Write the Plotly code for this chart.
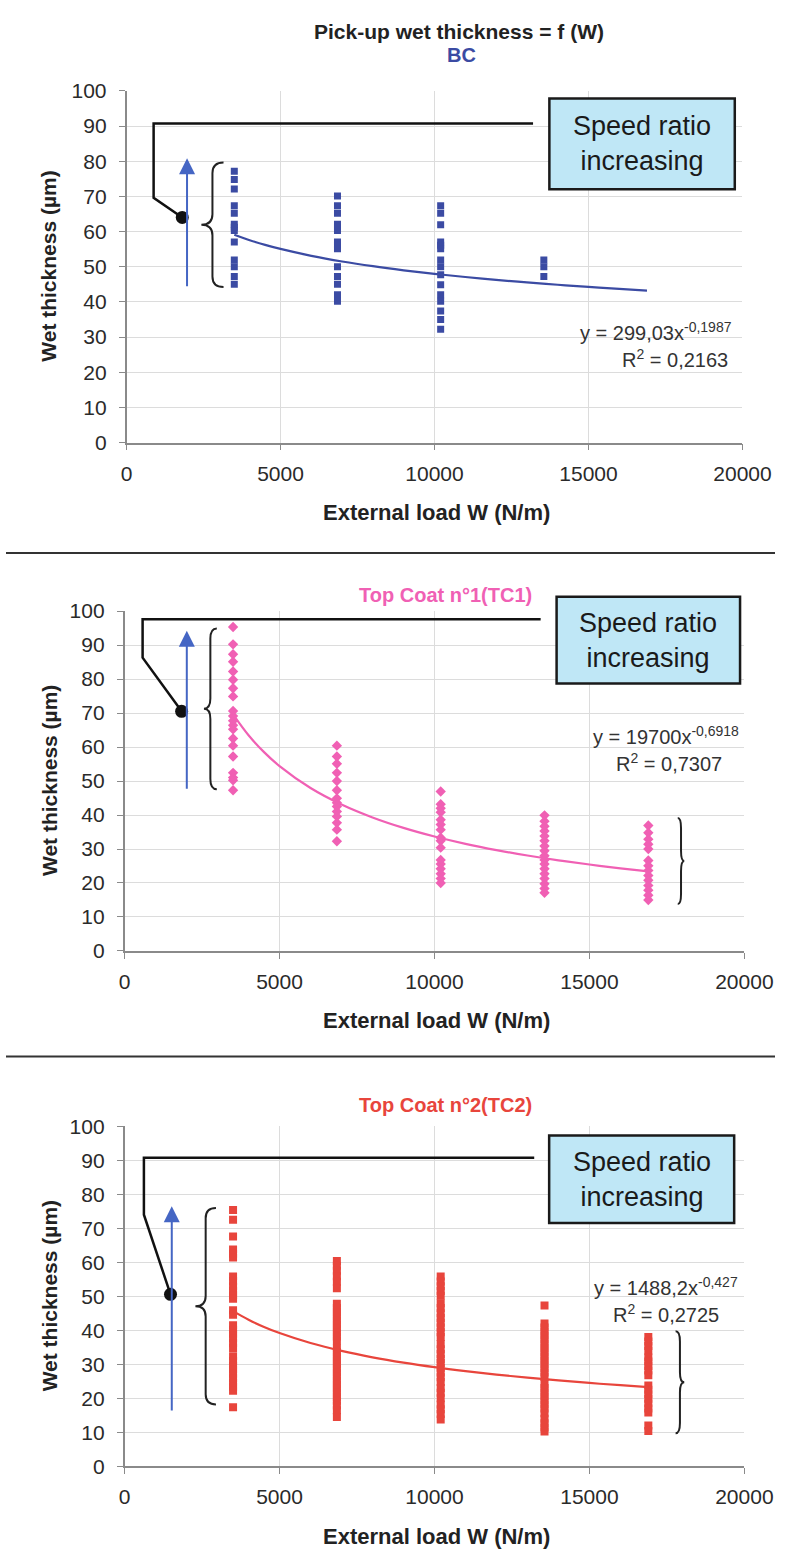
import plotly.graph_objects as go

# ---------------- data ----------------
loads = [3500, 6850, 10200, 13550, 16900]

bc_cols = [
    [77.1, 74.8, 72.1, 67.3, 65.2, 62.1, 61.2, 60.3, 57.0, 51.9, 50.0, 47.2, 45.0],
    [70.1, 67.3, 65.2, 62.1, 61.2, 60.3, 57.0, 56.1, 55.1, 50.0, 47.2, 45.0, 42.0, 40.2],
    [67.3, 65.2, 61.9, 57.0, 56.1, 55.1, 51.9, 50.0, 47.7, 44.9, 42.0, 40.2, 37.4, 35.0, 32.2],
    [51.9, 50.0, 47.2],
]
tc1_cols = [
    [95.3, 90.2, 87.3, 85.1, 82.2, 79.8, 77.3, 74.9, 70.6, 69.1, 67.7, 66.4, 65.2, 62.5, 60.4, 57.2, 52.4, 51.0, 50.2, 47.3],
    [60.4, 57.2, 55.1, 52.4, 50.0, 47.3, 44.9, 43.6, 42.5, 41.0, 39.6, 37.7, 35.7, 32.3],
    [46.9, 43.2, 42.0, 40.8, 38.6, 37.2, 35.7, 33.3, 32.4, 30.4, 26.8, 25.6, 24.2, 22.7, 21.3, 20.0],
    [39.9, 38.2, 36.7, 35.3, 33.8, 32.4, 30.9, 29.5, 28.0, 26.8, 25.6, 24.2, 22.7, 21.3, 19.8, 18.4, 17.1],
    [36.9, 34.8, 32.9, 31.4, 30.0, 26.6, 25.1, 23.7, 22.2, 20.8, 19.3, 17.9, 16.4, 15.0],
]
tc2_cols = [
    [75.4, 72.5, 67.6, 63.8, 62.5, 61.4, 55.8, 54.5, 52.9, 51.6, 50.3, 49.3, 45.9, 44.6, 41.5, 40.2, 39.0,
     37.7, 36.2, 34.8, 32.4, 31.0, 29.6, 28.5, 27.2, 25.9, 24.6, 23.4, 22.2, 17.4],
    [60.4, 59.0, 57.5, 55.9, 54.3, 52.4, 47.8, 46.6, 45.4, 44.2, 43.0, 41.8, 40.6, 39.4, 38.2, 37.0, 34.8,
     33.6, 32.4, 31.2, 30.0, 28.8, 27.6, 26.4, 25.2, 24.0, 22.8, 21.6, 20.4, 19.3, 17.9, 16.5, 14.5],
    [55.8, 54.4, 53.0, 51.6, 50.2, 48.0, 46.6, 45.0, 43.6, 42.2, 40.8, 39.4, 38.0, 36.0, 34.4, 33.0, 31.6,
     30.4, 29.0, 27.6, 26.2, 24.8, 23.0, 21.6, 20.0, 18.2, 16.8, 15.4, 13.8],
    [47.3, 42.0, 40.8, 39.6, 38.4, 37.2, 36.0, 34.8, 33.6, 32.4, 31.2, 30.0, 28.8, 27.6, 26.3, 24.2, 23.0,
     21.8, 20.6, 19.4, 18.2, 17.0, 15.6, 14.0, 12.7, 11.4, 10.2],
    [38.0, 36.7, 35.4, 34.0, 32.0, 30.8, 29.5, 28.2, 26.8, 23.8, 22.5, 21.2, 19.9, 18.5, 17.0, 15.8, 12.0, 10.4],
]

# power trend lines y = a * x^b (coefficients printed on the chart)
fit_a = [299.03, 19700, 1488.2]
fit_b = [-0.1987, -0.6918, -0.427]
fit_x = [3500, 4000, 4500, 5000, 6000, 7000, 8000, 9000, 10000, 11000, 12000, 13000, 14000, 15000, 16000, 16900]
eq_text = ["y = 299,03x<sup>-0,1987</sup>", "y = 19700x<sup>-0,6918</sup>", "y = 1488,2x<sup>-0,427</sup>"]
r2_text = ["R<sup>2</sup> = 0,2163", "R<sup>2</sup> = 0,7307", "R<sup>2</sup> = 0,2725"]
panel_titles = ["BC", "Top Coat n°1(TC1)", "Top Coat n°2(TC2)"]
main_title = "Pick-up wet thickness = f (W)"
x_ticks = [0, 5000, 10000, 15000, 20000]
y_ticks = [0, 10, 20, 30, 40, 50, 60, 70, 80, 90, 100]

# decorations (data coordinates of each panel)
bracket_lines = [
    [(13200, 90.7), (880, 90.7), (880, 69.6), (1810, 64.0)],
    [(13425, 97.6), (581, 97.6), (581, 86.3), (1840, 70.5)],
    [(13218, 90.8), (623, 90.8), (623, 74.0), (1481, 50.6)],
]
arrows = [(1965, 44.0, 80.8), (2007, 47.3, 94.2), (1522, 16.0, 76.5)]
left_braces = [(2430, 3150, 79.6, 44.2), (2560, 2975, 94.9, 47.6), (2284, 2948, 76.0, 18.2)]
right_braces = [None, (17850, 18060, 39.1, 13.8), (17780, 18060, 39.7, 9.7)]
boxes = [(13730, 19750, 72.0, 97.8), (13940, 19860, 78.7, 104.2), (13700, 19670, 71.6, 97.3)]
eq_pos = [((17200, 31.6), (17800, 24.0)), ((17470, 63.5), (17560, 55.4)), ((17470, 52.8), (17470, 45.0))]

# ---------------- styles ----------------
W, H = 804, 1564
PANELS = [
    dict(x0=126, x1=770, ytop=80, ybot=437),
    dict(x0=124, x1=772, ytop=608, ybot=953),
    dict(x0=124, x1=772, ytop=1131, ybot=1476),
]
colors = ["#3B4BA3", "#F060B4", "#E8453C"]
symbols = ["square", "diamond", "square"]
msizes = [7, 8, 8]
FONT = "Liberation Sans Narrow, Arial Narrow, Liberation Sans, Arial, sans-serif"
FONT_R = "Liberation Sans, Arial, sans-serif"


def ppx(i, x):
    p = PANELS[i]
    return (p["x0"] + x / 20000 * (p["x1"] - p["x0"])) / W


def ppy(i, y):
    p = PANELS[i]
    return (H - (p["ybot"] - y / 100 * (p["ybot"] - p["ytop"]))) / H


def brace_path(i, xa_, xb_, yt, yb, tip_x, back_x):
    xm = (xa_ + xb_) / 2
    ym = (yt + yb) / 2
    d = 3.0
    return (f"M {ppx(i, back_x):.5f},{ppy(i, yt):.5f} "
            f"Q {ppx(i, xm):.5f},{ppy(i, yt):.5f} {ppx(i, xm):.5f},{ppy(i, yt - d):.5f} "
            f"L {ppx(i, xm):.5f},{ppy(i, ym + d):.5f} "
            f"Q {ppx(i, xm):.5f},{ppy(i, ym):.5f} {ppx(i, tip_x):.5f},{ppy(i, ym):.5f} "
            f"Q {ppx(i, xm):.5f},{ppy(i, ym):.5f} {ppx(i, xm):.5f},{ppy(i, ym - d):.5f} "
            f"L {ppx(i, xm):.5f},{ppy(i, yb + d):.5f} "
            f"Q {ppx(i, xm):.5f},{ppy(i, yb):.5f} {ppx(i, back_x):.5f},{ppy(i, yb):.5f}")


fig = go.Figure()
all_cols = [bc_cols, tc1_cols, tc2_cols]
shapes = []
annotations = []

for i in range(3):
    xa = "x" if i == 0 else f"x{i+1}"
    ya = "y" if i == 0 else f"y{i+1}"
    cols = all_cols[i]
    xs, ys = [], []
    for j, col in enumerate(cols):
        for v in col:
            xs.append(loads[j])
            ys.append(v)
    fig.add_trace(go.Scatter(x=xs, y=ys, mode="markers", xaxis=xa, yaxis=ya,
                             marker=dict(symbol=symbols[i], size=msizes[i], color=colors[i], line=dict(width=0)),
                             showlegend=False))
    fy = [fit_a[i] * xv ** fit_b[i] for xv in fit_x]
    fig.add_trace(go.Scatter(x=fit_x, y=fy, mode="lines", xaxis=xa, yaxis=ya,
                             line=dict(color=colors[i], width=2.2, shape="spline"), showlegend=False))
    bx, by = bracket_lines[i][-1]
    fig.add_trace(go.Scatter(x=[bx], y=[by], mode="markers", xaxis=xa, yaxis=ya,
                             marker=dict(symbol="circle", size=13, color="#111"), showlegend=False))

    pts = bracket_lines[i]
    path = "M " + " L ".join(f"{ppx(i, x):.5f},{ppy(i, y):.5f}" for x, y in pts)
    shapes.append(dict(type="path", xref="paper", yref="paper", path=path,
                       line=dict(color="#111", width=2.5), layer="above"))

    xl, xr, yt, yb = left_braces[i]
    shapes.append(dict(type="path", xref="paper", yref="paper", path=brace_path(i, xl, xr, yt, yb, xl, xr),
                       line=dict(color="#222", width=2), layer="above"))
    if right_braces[i] is not None:
        xl, xr, yt, yb = right_braces[i]
        shapes.append(dict(type="path", xref="paper", yref="paper", path=brace_path(i, xl, xr, yt, yb, xr, xl),
                           line=dict(color="#222", width=2), layer="above"))

    bx0, bx1, by0, by1 = boxes[i]
    shapes.append(dict(type="rect", xref="paper", yref="paper",
                       x0=ppx(i, bx0), x1=ppx(i, bx1), y0=ppy(i, by0), y1=ppy(i, by1),
                       fillcolor="#BFE7F6", line=dict(color="#1a1a1a", width=2.5), layer="above"))
    annotations.append(dict(xref="paper", yref="paper", x=ppx(i, (bx0 + bx1) / 2), y=ppy(i, (by0 + by1) / 2),
                            text="Speed ratio<br>increasing", showarrow=False,
                            font=dict(family=FONT_R, size=27, color="#1a1a1a"), xanchor="center", yanchor="middle"))

    ax_, ay0, ay1 = arrows[i]
    annotations.append(dict(xref=xa, yref=ya, axref=xa, ayref=ya, x=ax_, y=ay1, ax=ax_, ay=ay0,
                            text="", showarrow=True, arrowhead=2, arrowsize=1.6, arrowwidth=2,
                            arrowcolor="#4566C4"))

    (ex, ey), (rx, ry) = eq_pos[i]
    annotations.append(dict(xref=xa, yref=ya, x=ex, y=ey, text=eq_text[i], showarrow=False,
                            font=dict(family=FONT_R, size=20, color="#333"), xanchor="center", yanchor="middle"))
    annotations.append(dict(xref=xa, yref=ya, x=rx, y=ry, text=r2_text[i], showarrow=False,
                            font=dict(family=FONT_R, size=20, color="#333"), xanchor="center", yanchor="middle"))

    p = PANELS[i]
    annotations.append(dict(xref="paper", yref="paper", x=45 / W, y=(H - (p["ytop"] + p["ybot"]) / 2) / H,
                            text="<b>Wet thickness (µm)</b>", textangle=-90, showarrow=False,
                            font=dict(family=FONT, size=21, color="#222"), xanchor="center", yanchor="middle"))
    annotations.append(dict(xref="paper", yref="paper", x=450 / W, y=(H - (p["ybot"] + 71)) / H,
                            text="<b>External load W (N/m)</b>", showarrow=False,
                            font=dict(family=FONT, size=22, color="#222"), xanchor="center", yanchor="middle"))

    axis_common = dict(showgrid=True, gridcolor="#DCDCDC", gridwidth=1, zeroline=False,
                       showline=True, linecolor="#8A8A8A", linewidth=1.5, ticks="outside",
                       ticklen=6, tickcolor="#8A8A8A", tickfont=dict(family=FONT, size=21, color="#2a2a2a"))
    xkey = "xaxis" if i == 0 else f"xaxis{i+1}"
    ykey = "yaxis" if i == 0 else f"yaxis{i+1}"
    fig.update_layout(**{
        xkey: dict(domain=[p["x0"] / W, p["x1"] / W], anchor=ya, range=[0, 20000], tickvals=x_ticks,
                   ticktext=[str(t) for t in x_ticks], ticklabelstandoff=5, **axis_common),
        ykey: dict(domain=[(H - p["ybot"]) / H, (H - p["ytop"]) / H], anchor=xa, range=[0, 100],
                   tickvals=y_ticks, ticklabelstandoff=8, **axis_common),
    })

annotations.append(dict(xref="paper", yref="paper", x=474 / W, y=(H - 20) / H, text="<b>" + main_title + "</b>",
                        showarrow=False, font=dict(family=FONT, size=21, color="#222"),
                        xanchor="center", yanchor="middle"))
title_pos = [(476, 44), (460, 592), (460, 1109)]
for i in range(3):
    annotations.append(dict(xref="paper", yref="paper", x=title_pos[i][0] / W, y=(H - title_pos[i][1]) / H,
                            text="<b>" + panel_titles[i] + "</b>", showarrow=False,
                            font=dict(family=FONT, size=20, color=colors[i]),
                            xanchor="center", yanchor="middle"))

for sy in [549, 1060]:
    shapes.append(dict(type="line", xref="paper", yref="paper", x0=0, x1=1, y0=(H - sy) / H, y1=(H - sy) / H,
                       line=dict(color="#333", width=2)))

fig.update_layout(width=W, height=H, autosize=False, margin=dict(l=0, r=0, t=0, b=0),
                  paper_bgcolor="white", plot_bgcolor="white", shapes=shapes, annotations=annotations,
                  showlegend=False)

fig.write_html("out.html", post_script="document.body.style.margin='0';document.body.style.overflow='hidden';")
